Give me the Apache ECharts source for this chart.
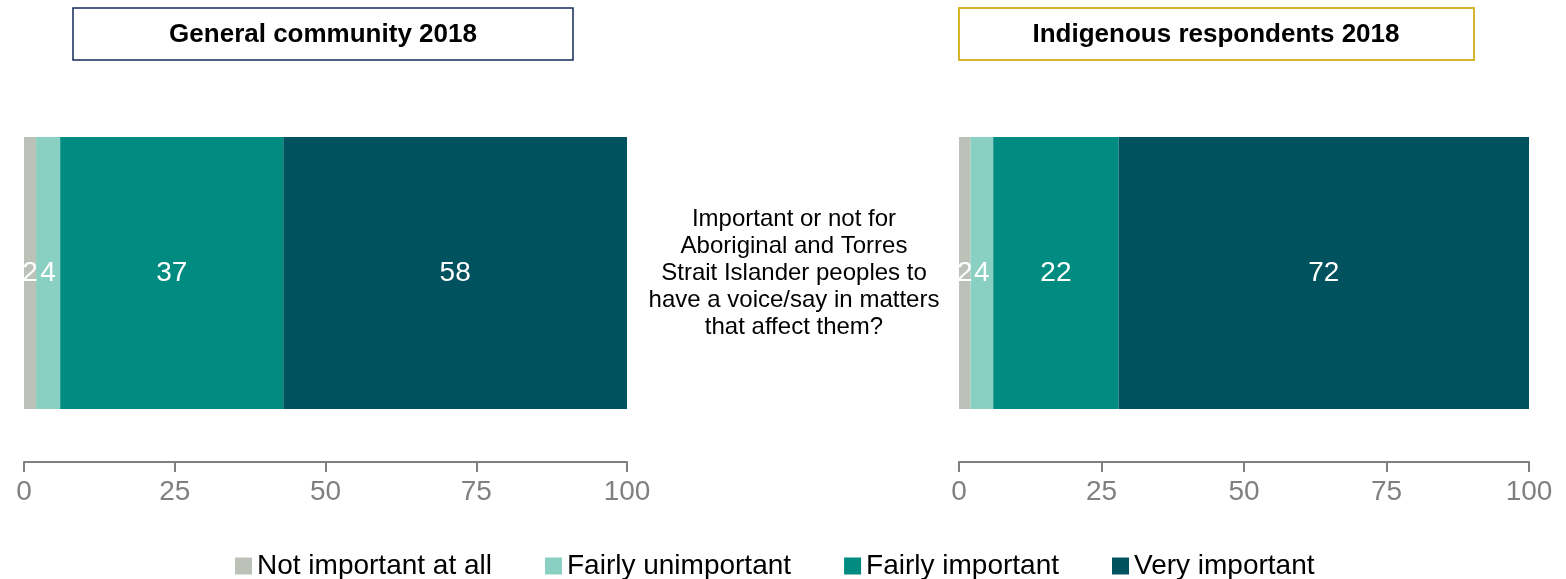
<!DOCTYPE html>
<html>
<head>
<meta charset="utf-8">
<title>Voice in matters that affect them</title>
<script src="https://cdn.jsdelivr.net/npm/echarts@6/dist/echarts.min.js"></script>
<style>
  html, body { margin: 0; padding: 0; background: #ffffff; }
  #chart { width: 1566px; height: 579px; }
</style>
</head>
<body>
<div id="chart"></div>
<script>
// Survey question shown between the two panels
const question = 'Important or not for\nAboriginal and Torres\nStrait Islander peoples to\nhave a voice/say in matters\nthat affect them?';

// Response categories (stack order, left to right)
const responseNames = ['Not important at all', 'Fairly unimportant', 'Fairly important', 'Very important'];
const responseColors = ['#bcc2b8', '#8ad0c2', '#008b80', '#00525e'];

// Percentages per panel
const generalCommunity2018 = [2, 4, 37, 58];
const indigenousRespondents2018 = [2, 4, 22, 72];

// Panel titles
const panelTitles = ['General community 2018', 'Indigenous respondents 2018'];

// Axis ticks
const axisMin = 0;
const axisMax = 100;
const axisStep = 25;

const FONT = '"Liberation Sans", Arial, sans-serif';
const AXIS_GREY = '#808080';

function valueAxis(gridIndex) {
  return {
    type: 'value',
    gridIndex: gridIndex,
    min: axisMin,
    max: axisMax,
    interval: axisStep,
    axisLine: { show: true, lineStyle: { color: AXIS_GREY, width: 2 } },
    axisTick: { show: true, length: 10, lineStyle: { color: AXIS_GREY, width: 2 } },
    splitLine: { show: false },
    axisLabel: { color: AXIS_GREY, fontSize: 28, fontFamily: FONT, margin: 16 }
  };
}

function categoryAxis(gridIndex) {
  return {
    type: 'category',
    gridIndex: gridIndex,
    data: [question],
    show: false
  };
}

function panelSeries(values, gridIndex, stackId) {
  return values.map(function (v, i) {
    return {
      name: responseNames[i],
      type: 'bar',
      stack: stackId,
      xAxisIndex: gridIndex,
      yAxisIndex: gridIndex,
      barWidth: 272,
      clip: true,
      itemStyle: { color: responseColors[i] },
      label: {
        show: true,
        position: 'inside',
        color: '#ffffff',
        fontSize: 28,
        fontFamily: FONT
      },
      emphasis: { disabled: true },
      data: [v]
    };
  });
}

const chart = echarts.init(document.getElementById('chart'), null, { renderer: 'canvas' });

chart.setOption({
  animation: false,
  backgroundColor: '#ffffff',
  textStyle: { fontFamily: FONT },
  grid: [
    { left: 24, right: 939, top: 84, bottom: 117 },
    { left: 959, right: 37, top: 84, bottom: 117 }
  ],
  xAxis: [valueAxis(0), valueAxis(1)],
  yAxis: [categoryAxis(0), categoryAxis(1)],
  legend: {
    data: responseNames,
    left: 235,
    top: 552,
    padding: 0,
    itemWidth: 17,
    itemHeight: 17,
    itemGap: 53,
    icon: 'rect',
    selectedMode: false,
    textStyle: { color: '#000000', fontSize: 28, fontFamily: FONT }
  },
  graphic: [
    // panel title boxes
    {
      type: 'rect',
      shape: { x: 73, y: 8, width: 500, height: 52 },
      style: { fill: '#ffffff', stroke: '#14285a', lineWidth: 1.5 }
    },
    {
      type: 'text',
      x: 323, y: 35,
      style: {
        text: panelTitles[0],
        fill: '#000000',
        font: 'bold 26px ' + FONT,
        align: 'center',
        verticalAlign: 'middle'
      }
    },
    {
      type: 'rect',
      shape: { x: 959, y: 8, width: 515, height: 52 },
      style: { fill: '#ffffff', stroke: '#d4b62c', lineWidth: 2 }
    },
    {
      type: 'text',
      x: 1216, y: 35,
      style: {
        text: panelTitles[1],
        fill: '#000000',
        font: 'bold 26px ' + FONT,
        align: 'center',
        verticalAlign: 'middle'
      }
    },
    // question text between the panels
    {
      type: 'text',
      x: 794, y: 273,
      style: {
        text: question,
        fill: '#000000',
        font: '24px ' + FONT,
        lineHeight: 27,
        align: 'center',
        verticalAlign: 'middle'
      }
    }
  ],
  series: panelSeries(generalCommunity2018, 0, 'general')
    .concat(panelSeries(indigenousRespondents2018, 1, 'indigenous'))
});
</script>
</body>
</html>
